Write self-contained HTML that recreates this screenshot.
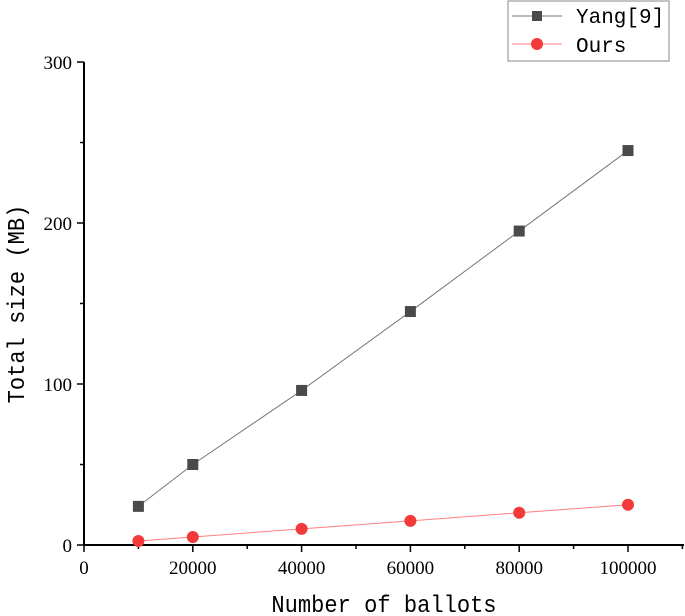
<!DOCTYPE html>
<html><head><meta charset="utf-8"><style>
html,body{margin:0;padding:0;background:#fff;}
svg{display:block;font-family:"Liberation Serif","Noto Serif CJK SC",serif;}
</style></head><body>
<svg id="chart" width="685" height="616" viewBox="0 0 685 616" xmlns="http://www.w3.org/2000/svg">
<g id="axes"></g>
<g id="series"></g>
<text x="384" y="612" text-anchor="middle" font-size="24" font-family="Liberation Mono, monospace" transform="translate(384,0) scale(0.92,1) translate(-384,0)">Number of ballots</text>
<text x="0" y="0" text-anchor="middle" font-size="24" font-family="Liberation Mono, monospace" transform="translate(24,304) rotate(-90) scale(0.92,1)">Total size (MB)</text>
<g>
<rect x="508" y="1" width="161" height="60" fill="#fff" stroke="#888" stroke-width="1"/>
<line x1="512" y1="16" x2="562" y2="16" stroke="#777" stroke-width="1"/>
<rect x="532" y="11" width="10" height="10" fill="#4a4a4a"/>
<text x="576" y="23" font-size="21" font-family="Liberation Mono, monospace">Yang[9]</text>
<line x1="512" y1="44" x2="562" y2="44" stroke="#ff8080" stroke-width="1"/>
<circle cx="537" cy="44" r="6" fill="#f33a3a"/>
<text x="576" y="52" font-size="21" font-family="Liberation Mono, monospace">Ours</text>
</g>
</svg>
<script>
const categories = [10000, 20000, 40000, 60000, 80000, 100000];
const yangValues = [24, 50, 96, 145, 195, 245];
const oursValues = [2.5, 5, 10, 15, 20, 25];
const xTicks = [0, 20000, 40000, 60000, 80000, 100000];
const yTicks = [0, 100, 200, 300];

const NS = "http://www.w3.org/2000/svg";
const X0 = 84, X1 = 628, Y0 = 545, Y1 = 62;
const xs = v => X0 + (v / 100000) * (X1 - X0);
const ys = v => Y0 - (v / 300) * (Y0 - Y1);
function mk(tag, attrs, parent) {
  const e = document.createElementNS(NS, tag);
  for (const k in attrs) e.setAttribute(k, attrs[k]);
  parent.appendChild(e);
  return e;
}
const axes = document.getElementById('axes');
const series = document.getElementById('series');

const xa = mk('line', {x1: X0, y1: Y0, x2: 684, y2: Y0, stroke: '#000', 'stroke-width': 2}, axes);


const ya = mk('line', {x1: X0, y1: Y0 + 1, x2: X0, y2: Y1, stroke: '#000', 'stroke-width': 2}, axes);



for (let v = 0; v <= 110000; v += 10000) {
  const major = v % 20000 === 0;
  const t = mk('line', {x1: xs(v), y1: Y0, x2: xs(v), y2: Y0 + (major ? 7 : 4), stroke: '#000', 'stroke-width': 1.5}, axes);
  
  
}
xTicks.forEach(v => {
  const t = mk('text', {x: xs(v), y: Y0 + 29, 'text-anchor': 'middle', 'font-size': 19}, axes);
  t.textContent = String(v);
  
  
});
for (let v = 0; v <= 300; v += 50) {
  const major = v % 100 === 0;
  const t = mk('line', {x1: X0, y1: ys(v), x2: X0 - (major ? 7 : 4), y2: ys(v), stroke: '#000', 'stroke-width': 1.5}, axes);
  
  
}
yTicks.forEach(v => {
  const t = mk('text', {x: X0 - 12, y: ys(v) + 7, 'text-anchor': 'end', 'font-size': 19}, axes);
  t.textContent = String(v);
  
  
});

const yl = mk('polyline', {points: categories.map((c, i) => xs(c) + ',' + ys(yangValues[i])).join(' '), fill: 'none', stroke: '#777', 'stroke-width': 1}, series);


const ol = mk('polyline', {points: categories.map((c, i) => xs(c) + ',' + ys(oursValues[i])).join(' '), fill: 'none', stroke: '#ff8080', 'stroke-width': 1}, series);


categories.forEach((c, i) => {
  const r = mk('rect', {x: xs(c) - 5.5, y: ys(yangValues[i]) - 5.5, width: 11, height: 11, fill: '#4a4a4a'}, series);
  
  
  const p = mk('circle', {cx: xs(c), cy: ys(oursValues[i]), r: 6, fill: '#f33a3a'}, series);
  
  
});
</script>
</body></html>
